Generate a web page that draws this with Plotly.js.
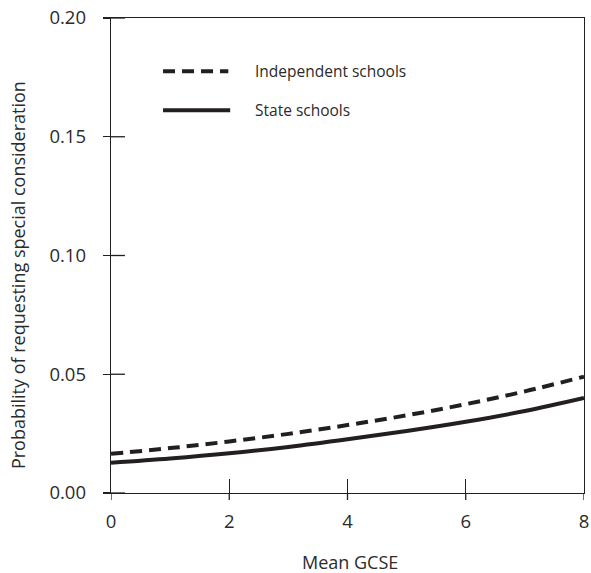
<!DOCTYPE html>
<html>
<head>
<meta charset="utf-8">
<script src="https://cdn.plot.ly/plotly-3.0.1.min.js"></script>
<style>html,body{margin:0;padding:0;background:#fff;}#chart{width:591px;height:573px;}</style>
</head>
<body>
<div id="chart"></div>
<script>
// Data
var meanGCSE = [0, 1, 2, 3, 4, 5, 6, 7, 8];
var independentSchools = [0.0165, 0.0189, 0.0217, 0.0249, 0.0286, 0.0327, 0.0374, 0.0428, 0.0490];
var stateSchools = [0.0127, 0.0145, 0.0167, 0.0194, 0.0226, 0.0261, 0.0300, 0.0345, 0.0400];
var seriesNames = ["Independent schools", "State schools"];
var xTitle = "Mean GCSE";
var yTitle = "Probability of requesting special consideration";
var xTickVals = [0, 2, 4, 6, 8];
var yTickVals = [0.00, 0.05, 0.10, 0.15, 0.20];
var yTickText = ["0.00", "0.05", "0.10", "0.15", "0.20"];

var ink = "#231f20";
var txt = "#2b2b2b";
var fontFam = "Open Sans, Noto Sans, sans-serif";

var traces = [
  {x: meanGCSE, y: independentSchools, name: seriesNames[0], mode: "lines", line: {color: ink, width: 4, dash: "12px,7px", shape: "spline"}, showlegend: false},
  {x: meanGCSE, y: stateSchools, name: seriesNames[1], mode: "lines", line: {color: ink, width: 4, shape: "spline"}, showlegend: false}
];

var axisCommon = {
  showgrid: false, zeroline: false, showline: true, linecolor: ink, linewidth: 1.3,
  mirror: true, tickwidth: 1.3, tickcolor: ink,
  tickfont: {family: fontFam, size: 18.5, color: txt}
};

// the other halves of the crossing tick marks, placed at the tick values through the axes
var shapes = [];
xTickVals.forEach(function (v) {
  shapes.push({type: "line", layer: "above", xref: "x", yref: "paper", x0: v, x1: v, y0: 0, y1: -0.0147, line: {color: ink, width: 1.3}});
});
yTickVals.forEach(function (v) {
  shapes.push({type: "line", layer: "above", yref: "y", xref: "paper", y0: v, y1: v, x0: 0, x1: 0.0295, line: {color: ink, width: 1.3}});
});
// legend samples
shapes.push({type: "line", xref: "paper", yref: "paper", x0: 0.11, x1: 0.248, y0: 0.888, y1: 0.888, line: {color: ink, width: 4, dash: "12px,7px"}});
shapes.push({type: "line", xref: "paper", yref: "paper", x0: 0.11, x1: 0.252, y0: 0.806, y1: 0.806, line: {color: ink, width: 4}});

var layout = {
  width: 591, height: 573,
  margin: {l: 111, r: 6.5, t: 18, b: 79.5},
  paper_bgcolor: "#fff", plot_bgcolor: "#fff",
  font: {family: fontFam, color: txt},
  xaxis: Object.assign({}, axisCommon, {range: [0, 8], tickvals: xTickVals, ticks: "inside", ticklen: 14, ticklabelstandoff: 11}),
  yaxis: Object.assign({}, axisCommon, {range: [0, 0.2], tickvals: yTickVals, ticktext: yTickText, ticks: "outside", ticklen: 7, ticklabelstandoff: 13}),
  shapes: shapes,
  annotations: [
    {xref: "paper", yref: "paper", x: 0.3, y: 0.888, xanchor: "left", yanchor: "middle", text: seriesNames[0], showarrow: false, font: {family: fontFam, size: 15.5, color: txt}},
    {xref: "paper", yref: "paper", x: 0.3, y: 0.806, xanchor: "left", yanchor: "middle", text: seriesNames[1], showarrow: false, font: {family: fontFam, size: 15.5, color: txt}},
    {xref: "paper", yref: "paper", x: 0.506, y: -0.146, xanchor: "center", yanchor: "middle", text: xTitle, showarrow: false, font: {family: fontFam, size: 18, color: txt}},
    {xref: "paper", yref: "paper", x: -0.198, y: 0.4595, xanchor: "center", yanchor: "middle", textangle: -90, text: yTitle, showarrow: false, font: {family: fontFam, size: 18, color: txt}}
  ]
};

Plotly.newPlot("chart", traces, layout, {displayModeBar: false, staticPlot: true});
</script>
</body>
</html>
